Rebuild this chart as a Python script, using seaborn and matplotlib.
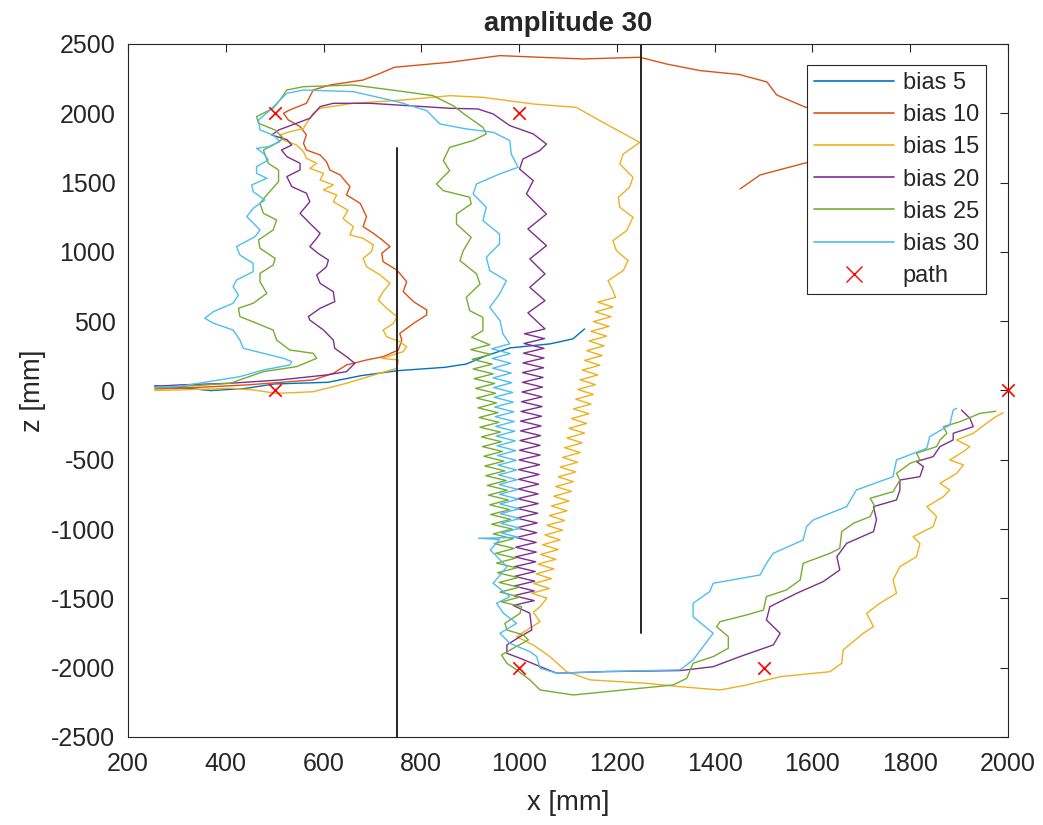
import pandas as pd
import matplotlib
matplotlib.use("Agg")
import matplotlib.pyplot as plt
from matplotlib.lines import Line2D
import seaborn as sns

# traced paths, (x, z) in mm
bias5 = [(255, 35), (302, 23), (370, -1), (440, 15), (500, 47), (609, 59), (677, 107), (752, 143),
         (848, 167), (892, 191), (933, 251), (981, 307), (1063, 336), (1110, 372), (1134, 444)]

bias10 = [(255, 11), (306, 16), (443, 40), (579, 76), (620, 124), (647, 184), (688, 220), (722, 244),
          (753, 292), (760, 364), (756, 412), (784, 484), (811, 545), (811, 581), (784, 641), (763, 713),
          (770, 785), (750, 869), (722, 929), (719, 990), (736, 1038), (720, 1086), (702, 1134),
          (681, 1182), (688, 1254), (675, 1350), (647, 1411), (654, 1471), (634, 1555), (613, 1591),
          (606, 1651), (593, 1699), (565, 1735), (559, 1783), (565, 1844), (552, 1904), (528, 1952),
          (518, 2000), (531, 2024), (565, 2072), (579, 2168), (613, 2204), (681, 2240), (716, 2288),
          (745, 2332), (858, 2368), (961, 2416), (1042, 2404), (1131, 2392), (1247, 2404), (1301, 2356),
          (1370, 2308), (1450, 2280), (1507, 2226), (1527, 2132), (1585, 2045), (1680, 1980),
          (1720, 1850), (1680, 1720), (1585, 1641), (1493, 1555), (1452, 1454)]

bias15 = [(255, 0), (306, 4), (409, 16), (456, 4), (504, -21), (579, -9), (647, 52), (715, 124),
          (750, 160), (753, 220), (719, 232), (763, 280), (770, 316), (756, 352), (729, 388), (722, 436),
          (743, 484), (750, 533), (729, 593), (712, 653), (722, 713), (736, 773), (716, 833), (688, 893),
          (681, 953), (698, 1002), (702, 1050), (681, 1098), (654, 1122), (661, 1182), (640, 1240),
          (650, 1300), (620, 1362), (627, 1411), (600, 1447), (620, 1483), (593, 1519), (600, 1567),
          (572, 1603), (586, 1639), (565, 1675), (559, 1723), (545, 1771), (518, 1807), (511, 1843),
          (531, 1867), (559, 1891), (565, 1928), (579, 2000), (593, 2036), (661, 2072), (763, 2096),
          (859, 2127), (926, 2115), (1029, 2067), (1117, 2043), (1165, 1947), (1247, 1790), (1213, 1706),
          (1206, 1634), (1233, 1538), (1226, 1466), (1203, 1394), (1206, 1322), (1233, 1250),
          (1220, 1153), (1192, 1081), (1199, 1009), (1223, 937), (1213, 865), (1182, 792), (1192, 720),
          (1197, 672), (1161, 637), (1192, 602), (1156, 567), (1188, 532), (1152, 497), (1184, 462),
          (1147, 427), (1179, 392), (1143, 357), (1174, 322), (1138, 287), (1170, 252), (1134, 217),
          (1165, 182), (1129, 147), (1161, 112), (1125, 77), (1156, 42), (1120, 7), (1152, -28),
          (1116, -63), (1147, -98), (1111, -133), (1143, -168), (1107, -203), (1138, -238), (1102, -273),
          (1134, -308), (1098, -343), (1129, -378), (1093, -413), (1125, -448), (1089, -483),
          (1120, -518), (1084, -553), (1116, -588), (1080, -623), (1111, -658), (1075, -693),
          (1107, -728), (1071, -763), (1102, -798), (1066, -833), (1098, -868), (1062, -903),
          (1093, -938), (1057, -973), (1089, -1008), (1053, -1043), (1084, -1078), (1048, -1113),
          (1080, -1148), (1044, -1183), (1075, -1218), (1039, -1253), (1071, -1288), (1035, -1323),
          (1066, -1358), (1030, -1393), (1062, -1428), (1026, -1463), (1057, -1498), (1043, -1560),
          (1029, -1600), (1043, -1668), (1016, -1728), (995, -1776), (1029, -1836), (1063, -1920),
          (1097, -2028), (1145, -2088), (1261, -2113), (1329, -2137), (1411, -2161), (1465, -2125),
          (1534, -2065), (1636, -2029), (1660, -1968), (1663, -1872), (1704, -1752), (1725, -1704),
          (1711, -1608), (1738, -1535), (1772, -1463), (1765, -1367), (1779, -1271), (1813, -1199),
          (1820, -1103), (1806, -1055), (1847, -982), (1854, -910), (1834, -838), (1868, -766),
          (1881, -718), (1861, -670), (1895, -598), (1909, -537), (1881, -501), (1909, -441),
          (1922, -405), (1895, -357), (1929, -309), (1956, -237), (1975, -190), (1990, -160)]

bias20 = [(255, 30), (306, 40), (409, 52), (511, 76), (606, 112), (647, 136), (664, 196), (647, 244),
          (623, 304), (620, 364), (600, 436), (572, 508), (569, 533), (593, 593), (623, 641), (620, 713),
          (593, 773), (586, 833), (606, 893), (610, 941), (589, 989), (572, 1038), (586, 1098),
          (593, 1134), (572, 1206), (552, 1278), (572, 1362), (565, 1423), (535, 1471), (525, 1543),
          (552, 1591), (552, 1639), (525, 1687), (514, 1735), (535, 1771), (525, 1810), (494, 1843),
          (508, 1879), (572, 1964), (593, 2048), (620, 2072), (695, 2072), (859, 2036), (916, 2031),
          (947, 1995), (981, 1911), (1029, 1851), (1056, 1778), (1042, 1730), (1008, 1670), (1001, 1598),
          (1029, 1514), (1015, 1418), (1056, 1273), (1018, 1165), (1056, 1045), (1022, 949), (1053, 841),
          (1022, 744), (1053, 648), (1018, 560),
          (1053, 444), (1011, 409), (1052, 374), (1010, 339), (1051, 304), (1009, 269), (1051, 234),
          (1008, 199), (1050, 164), (1007, 129), (1049, 94), (1007, 59), (1048, 24), (1006, -11),
          (1047, -46), (1005, -81), (1047, -116), (1004, -151), (1046, -186), (1003, -221), (1045, -256),
          (1003, -291), (1044, -326), (1002, -361), (1043, -396), (1001, -431), (1043, -466), (1000, -501),
          (1042, -536), (999, -571), (1041, -606), (999, -641), (1040, -676), (998, -711), (1039, -746),
          (997, -781), (1039, -816), (996, -851), (1038, -886), (995, -921), (1037, -956), (995, -991),
          (1036, -1026), (994, -1061), (1035, -1096), (993, -1131), (1035, -1166), (992, -1201),
          (1034, -1236), (991, -1271), (1033, -1306), (991, -1341), (1032, -1376), (990, -1411),
          (1031, -1446), (989, -1481), (1031, -1516), (988, -1551),
          (1022, -1607), (1026, -1728), (1002, -1776), (975, -1836), (975, -1896), (1002, -1932),
          (1043, -1992), (1077, -2040), (1179, -2028), (1329, -2021), (1397, -1993), (1452, -1920),
          (1520, -1836), (1534, -1752), (1506, -1656), (1513, -1560), (1568, -1463), (1622, -1379),
          (1656, -1295), (1650, -1199), (1670, -1103), (1725, -1018), (1731, -934), (1725, -838),
          (1772, -790), (1779, -718), (1779, -646), (1820, -622), (1827, -549), (1813, -513),
          (1847, -477), (1861, -405), (1888, -357), (1888, -309), (1929, -261), (1922, -200), (1905, -141)]

bias25 = [(255, 20), (306, 28), (409, 52), (477, 136), (545, 172), (586, 232), (579, 268), (531, 292),
          (504, 364), (497, 436), (463, 485), (429, 533), (426, 593), (456, 629), (484, 701), (470, 785),
          (470, 845), (497, 905), (501, 953), (470, 1026), (467, 1086), (497, 1158), (504, 1230),
          (477, 1278), (470, 1350), (484, 1411), (508, 1507), (508, 1591), (487, 1639), (477, 1735),
          (497, 1771), (518, 1819), (501, 1879), (467, 1928), (463, 1976), (497, 2036), (511, 2096),
          (525, 2168), (559, 2192), (661, 2204), (756, 2160), (824, 2127), (865, 2055), (892, 1983),
          (926, 1899), (933, 1851), (906, 1803), (858, 1754), (845, 1658), (858, 1586), (831, 1490),
          (845, 1442), (899, 1394), (902, 1346), (872, 1273), (872, 1201), (902, 1105), (886, 1009),
          (879, 937), (913, 841), (920, 768), (892, 672), (899, 576), (926, 528), (926, 432), (903, 384),
          (940, 330), (901, 295), (942, 260), (904, 225), (945, 190), (906, 155), (947, 120), (908, 85),
          (950, 50), (911, 15), (952, -20), (913, -55), (954, -90), (916, -125), (957, -160), (918, -195),
          (959, -230), (920, -265), (962, -300), (923, -335), (964, -370), (925, -405), (966, -440),
          (928, -475), (969, -510), (930, -545), (971, -580), (932, -615), (974, -650), (935, -685),
          (976, -720), (937, -755), (978, -790), (940, -825), (981, -860), (942, -895), (983, -930),
          (944, -965), (986, -1000), (947, -1035), (988, -1070), (949, -1105), (990, -1140),
          (952, -1175), (993, -1210), (954, -1245), (995, -1280), (956, -1315), (998, -1350),
          (959, -1385), (1000, -1420), (961, -1455), (1002, -1490), (964, -1525), (1005, -1560),
          (1002, -1608), (971, -1680), (975, -1728), (1009, -1764), (1019, -1800), (988, -1860),
          (964, -1908), (975, -1968), (995, -2016), (1022, -2088), (1043, -2161), (1111, -2197),
          (1213, -2161), (1315, -2125), (1343, -2077), (1356, -1968), (1397, -1920), (1428, -1860),
          (1428, -1776), (1404, -1704), (1411, -1668), (1465, -1620), (1500, -1584), (1506, -1487),
          (1547, -1439), (1575, -1367), (1581, -1247), (1636, -1175), (1656, -1139), (1660, -1018),
          (1684, -958), (1718, -910), (1728, -838), (1718, -778), (1765, -730), (1779, -646),
          (1772, -598), (1800, -525), (1820, -501), (1813, -453), (1854, -405), (1861, -357),
          (1875, -309), (1868, -261), (1902, -225), (1943, -165), (1975, -150)]

bias30 = [(255, 25), (306, 30), (429, 100), (477, 148), (531, 184), (535, 208), (518, 232), (477, 268),
          (436, 304), (429, 364), (415, 436), (375, 485), (357, 521), (375, 569), (415, 629), (426, 689),
          (415, 749), (422, 797), (456, 857), (456, 917), (429, 977), (422, 1038), (460, 1110),
          (470, 1158), (450, 1230), (443, 1254), (456, 1314), (480, 1374), (456, 1435), (453, 1483),
          (484, 1531), (463, 1567), (463, 1615), (487, 1663), (477, 1711), (463, 1747), (487, 1759),
          (511, 1795), (497, 1843), (470, 1879), (467, 1952), (491, 2024), (511, 2096), (525, 2144),
          (559, 2168), (661, 2156), (756, 2079), (811, 2019), (838, 1923), (892, 1887), (947, 1863),
          (981, 1803), (984, 1706), (998, 1610), (960, 1562), (913, 1490), (906, 1418), (933, 1322),
          (926, 1225), (960, 1129), (960, 1057), (933, 961), (940, 865), (974, 792), (960, 696),
          (940, 600), (961, 504), (967, 408),
          (981, 336), (944, 301), (982, 266), (945, 231), (983, 196), (946, 161), (984, 126), (947, 91),
          (985, 56), (948, 21), (987, -14), (949, -49), (988, -84), (950, -119), (989, -154), (951, -189),
          (990, -224), (952, -259), (991, -294), (953, -329), (992, -364), (955, -399), (993, -434),
          (956, -469), (994, -504), (957, -539), (995, -574), (958, -609), (996, -644), (959, -679),
          (998, -714), (960, -749), (999, -784), (961, -819), (1000, -854), (962, -889), (1001, -924),
          (963, -959), (1002, -994), (964, -1029),
          (1000, -1060), (917, -1066), (960, -1075), (941, -1151), (975, -1271), (947, -1391),
          (981, -1487), (954, -1535), (968, -1607), (995, -1680), (961, -1752), (981, -1824),
          (1022, -1884), (1036, -1920), (1043, -2004), (1077, -2040), (1179, -2028), (1329, -2016),
          (1356, -1944), (1397, -1752), (1356, -1632), (1356, -1535), (1390, -1451), (1397, -1391),
          (1493, -1331), (1506, -1247), (1520, -1175), (1581, -1079), (1588, -982), (1602, -934),
          (1670, -838), (1690, -718), (1765, -622), (1772, -501), (1834, -417), (1840, -333),
          (1881, -249), (1888, -141), (1895, -129)]

path_x = [500, 500, 1000, 1000, 1500, 2000]
path_z = [0, 2000, 2000, -2000, -2000, 0]

wall_x = [750, 1250]
wall_z0 = [-2500, 2500]
wall_z1 = [1750, -1750]

names = ["bias 5", "bias 10", "bias 15", "bias 20", "bias 25", "bias 30"]
series = [bias5, bias10, bias15, bias20, bias25, bias30]
colors = ["#0072BD", "#D95319", "#EDB120", "#7E2F8E", "#77AC30", "#4DBEEE"]

rows = []
for name, pts in zip(names, series):
    for i, (x, z) in enumerate(pts):
        rows.append({"series": name, "i": i, "x": x, "z": z})
df = pd.DataFrame(rows)

sns.set_style("white")
plt.rcParams["font.family"] = ["Liberation Sans", "DejaVu Sans"]
plt.rcParams["axes.unicode_minus"] = False

fig = plt.figure(figsize=(10.43, 8.25), dpi=100)
ax = fig.add_axes([0.1227, 0.1067, 0.8437, 0.84])

sns.lineplot(data=df, x="x", y="z", hue="series", hue_order=names, palette=colors,
             sort=False, estimator=None, units="series", lw=1.0, legend=False, ax=ax)
sns.scatterplot(x=path_x, y=path_z, marker="x", color="red", s=80, linewidth=1.2, ax=ax,
                zorder=5, clip_on=False)
for wx, a, b in zip(wall_x, wall_z0, wall_z1):
    ax.plot([wx, wx], [a, b], color="#262626", lw=1.4, zorder=6)

ax.set_xlim(200, 2000)
ax.set_ylim(-2500, 2500)
ax.set_xticks(range(200, 2001, 200))
ax.set_yticks(range(-2500, 2501, 500))
ax.tick_params(direction="in", length=6, width=0.8, colors="#262626", labelsize=18,
               top=True, right=True, labelcolor="#262626")
ax.tick_params(axis="x", pad=11)
ax.tick_params(axis="y", pad=9)
for s in ax.spines.values():
    s.set_color("#262626")
    s.set_linewidth(0.8)
ax.set_xlabel("x [mm]", fontsize=19.8, color="#262626", labelpad=10)
ax.set_ylabel("z [mm]", fontsize=19.8, color="#262626", labelpad=4)
ax.set_title("amplitude 30", fontsize=19.8, fontweight="bold", pad=9)

handles = [Line2D([], [], color=c, lw=1.2) for c in colors]
handles.append(Line2D([], [], color="red", marker="x", ls="none", markersize=11))
leg = ax.legend(handles, names + ["path"], loc="upper right", bbox_to_anchor=(0.975, 0.9697),
                borderaxespad=0, fontsize=17, handlelength=3.4, handletextpad=0.35,
                framealpha=1, fancybox=False, edgecolor="#262626", borderpad=0.3,
                labelspacing=0.43)
leg.get_frame().set_linewidth(0.8)
leg.set_zorder(10)

fig.savefig("out.png", dpi=100)
